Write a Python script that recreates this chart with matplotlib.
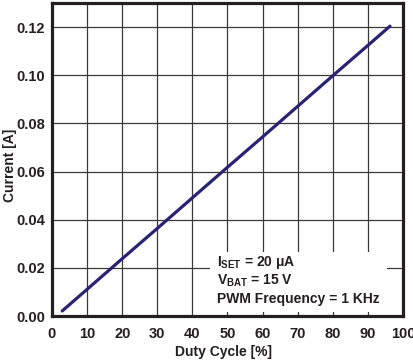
import matplotlib.pyplot as plt
from matplotlib.patches import Rectangle

plt.rcParams['font.family'] = ['Liberation Sans', 'DejaVu Sans']
plt.rcParams['font.weight'] = 'bold'
plt.rcParams['mathtext.fontset'] = 'custom'
plt.rcParams['mathtext.rm'] = 'Liberation Sans:bold'
plt.rcParams['mathtext.bf'] = 'Liberation Sans:bold'
plt.rcParams['mathtext.default'] = 'bf'

# data
duty = [2.9, 10, 20, 30, 40, 50, 60, 70, 80, 90, 96.3]
current = [0.0021, 0.0111, 0.0238, 0.0364, 0.0491, 0.0618, 0.0744, 0.0871, 0.0998, 0.1124, 0.1204]
xticks = [0, 10, 20, 30, 40, 50, 60, 70, 80, 90, 100]
yticks = [0.00, 0.02, 0.04, 0.06, 0.08, 0.10, 0.12]
notes = [r'I$_{SET}$ = 20 μA', r'V$_{BAT}$ = 15 V', 'PWM Frequency = 1 KHz']

fig = plt.figure(figsize=(4.14, 3.62), dpi=100)
ax = fig.add_axes([0.1256, 0.127, 0.8478, 0.8647])

ax.plot(duty, current, color='#2a2272', lw=2.3, solid_capstyle='round', zorder=3)

ax.set_xlim(0, 100)
ax.set_ylim(0, 0.13)
ax.set_xticks(xticks)
ax.set_yticks(yticks)
ax.set_yticklabels(['%.2f' % v for v in yticks])
ax.grid(True, color='#3a3a3a', lw=0.9)
ax.tick_params(length=0, labelsize=10.5, colors='#231f20')
ax.tick_params(axis='x', pad=8)
ax.tick_params(axis='y', pad=5)
for s in ax.spines.values():
    s.set_linewidth(2.3)
    s.set_color('#231f20')
    s.set_zorder(5)

# white box behind the conditions text
ax.add_patch(Rectangle((45, 0.0017), 50.4, 0.025, facecolor='white', edgecolor='none', zorder=2.5))
for i, t in enumerate(notes):
    ax.text(47, 0.0224 - i * 0.0077, t, fontsize=10, fontweight='bold', va='center',
            color='#231f20', zorder=4)

fig.text(0.539, 0.027, 'Duty Cycle [%]', fontsize=10, fontweight='bold',
         ha='center', va='center', color='#231f20')
fig.text(0.025, 0.543, 'Current [A]', fontsize=10, fontweight='bold', rotation=90,
         ha='center', va='center', color='#231f20')

fig.savefig('out.png', dpi=100)
